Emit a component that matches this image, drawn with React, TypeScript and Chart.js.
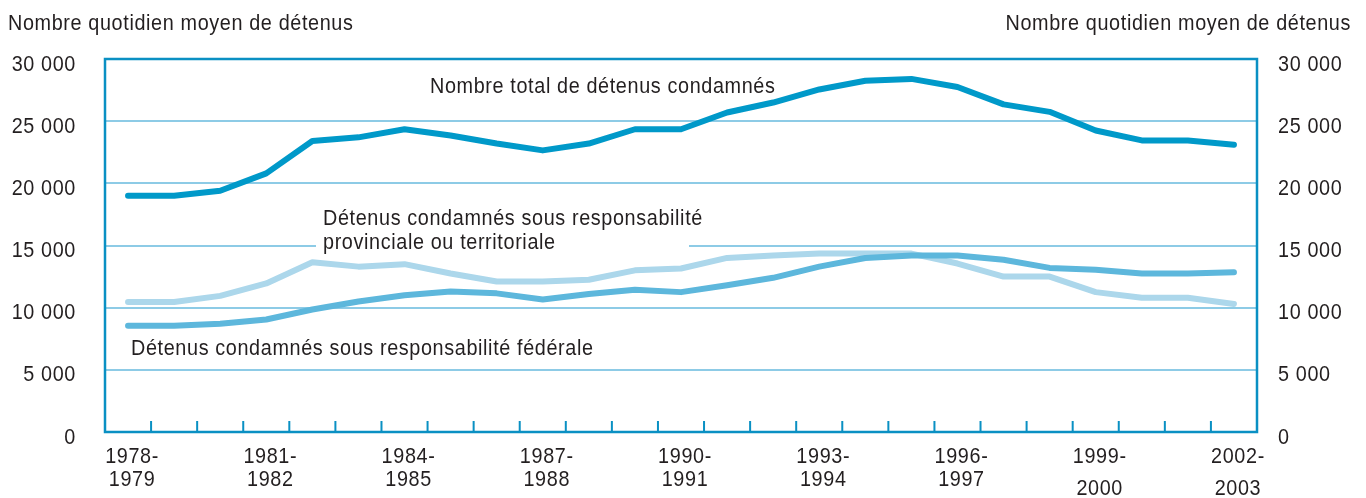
import React, { useEffect, useRef } from "react";
import { Chart, registerables } from "chart.js";

Chart.register(...registerables);

const categories = [
  "1978-1979", "1979-1980", "1980-1981", "1981-1982", "1982-1983",
  "1983-1984", "1984-1985", "1985-1986", "1986-1987", "1987-1988",
  "1988-1989", "1989-1990", "1990-1991", "1991-1992", "1992-1993",
  "1993-1994", "1994-1995", "1995-1996", "1996-1997", "1997-1998",
  "1998-1999", "1999-2000", "2000-2001", "2001-2002", "2002-2003",
];

const totalInmates = [
  19000, 19000, 19400, 20800, 23400, 23700, 24350, 23850, 23200, 22650,
  23200, 24350, 24350, 25700, 26500, 27550, 28250, 28400, 27750, 26350,
  25750, 24250, 23450, 23450, 23100,
];

const provincialInmates = [
  10450, 10450, 10950, 11950, 13650, 13300, 13500, 12750, 12100, 12100,
  12250, 13000, 13150, 14000, 14200, 14350, 14350, 14350, 13550, 12500,
  12500, 11250, 10800, 10800, 10300,
];

const federalInmates = [
  8550, 8550, 8700, 9050, 9850, 10500, 11000, 11300, 11150, 10650,
  11100, 11450, 11250, 11800, 12400, 13300, 14000, 14200, 14200, 13850,
  13200, 13050, 12750, 12750, 12850,
];

const yTicks = [0, 5000, 10000, 15000, 20000, 25000, 30000];

const axisTitle = "Nombre quotidien moyen de détenus";
const totalLabel = "Nombre total de détenus condamnés";
const provincialLabel = ["Détenus condamnés sous responsabilité", "provinciale ou territoriale"];
const federalLabel = "Détenus condamnés sous responsabilité fédérale";

const FONT_FAMILY = '"Liberation Sans", Arial, sans-serif';
const FONT_SIZE = 22;
const SQUEEZE = 0.9;
const TRACK = "0.7px";
const TEXT = "#231f20";
const FRAME = "#0a90c3";
const GRID = "#8dcbe6";
const C_TOTAL = "#0099c9";
const C_FED = "#5db7dc";
const C_PROV = "#acd7eb";

const fmt = (v: number) => String(v).replace(/\B(?=(\d{3})+(?!\d))/g, " ");

function drawText(ctx: CanvasRenderingContext2D, text: string, x: number, y: number, align: CanvasTextAlign) {
  ctx.save();
  ctx.translate(x, y);
  ctx.scale(SQUEEZE, 1);
  ctx.font = `${FONT_SIZE}px ${FONT_FAMILY}`;
  (ctx as any).letterSpacing = TRACK;
  ctx.fillStyle = TEXT;
  ctx.textAlign = align;
  ctx.textBaseline = "alphabetic";
  ctx.fillText(text, 0, 0);
  ctx.restore();
}

const customDraw = {
  id: "customDraw",
  beforeDatasetsDraw(chart: any) {
    const { ctx, chartArea } = chart;
    const y = chart.scales.y;
    const gy = y.getPixelForValue(15000);
    ctx.save();
    ctx.fillStyle = "#ffffff";
    ctx.fillRect(chartArea.left + 211, gy - 4, 373, 8);
    ctx.restore();
  },
  afterDatasetsDraw(chart: any) {
    const { ctx, chartArea } = chart;
    const x = chart.scales.x;
    const y = chart.scales.y;
    const { left, right, top, bottom } = chartArea;
    ctx.save();
    ctx.strokeStyle = FRAME;
    ctx.lineWidth = 2.5;
    ctx.beginPath();
    ctx.rect(left, top, right - left, bottom - top);
    ctx.stroke();
    ctx.lineWidth = 2;
    ctx.beginPath();
    for (let i = 1; i < categories.length; i++) {
      const px = (x.getPixelForValue(i - 1) + x.getPixelForValue(i)) / 2;
      ctx.moveTo(px, bottom);
      ctx.lineTo(px, bottom - 11);
    }
    ctx.stroke();
    ctx.restore();

    // y tick labels (both sides)
    yTicks.forEach((v) => {
      const py = y.getPixelForValue(v) + 11.5;
      drawText(ctx, fmt(v), left - 29, py, "right");
      drawText(ctx, fmt(v), right + 21, py, "left");
    });

    // x labels
    categories.forEach((c, i) => {
      if (i % 3 !== 0) return;
      const [a, b] = c.split("-");
      const px = x.getPixelForValue(i) + 4;
      drawText(ctx, a + "-", px, bottom + 30.5, "center");
      const drop = i >= 21 ? 9 : 0;
      drawText(ctx, b, px, bottom + 54 + drop, "center");
    });

    // series annotations
    drawText(ctx, totalLabel, left + 325, top + 34, "left");
    drawText(ctx, provincialLabel[0], left + 218, top + 165.5, "left");
    drawText(ctx, provincialLabel[1], left + 218, top + 190, "left");
    drawText(ctx, federalLabel, left + 26, top + 296, "left");

    // axis titles
    drawText(ctx, axisTitle, 8, 30, "left");
    drawText(ctx, axisTitle, 1351, 30, "right");
  },
};

export default function App() {
  const ref = useRef<HTMLCanvasElement | null>(null);

  useEffect(() => {
    if (!ref.current) return;
    const common = {
      fill: false,
      borderWidth: 6,
      pointRadius: 0,
      tension: 0,
      borderCapStyle: "round" as const,
      borderJoinStyle: "round" as const,
    };
    const chart = new Chart(ref.current, {
      type: "line",
      data: {
        labels: categories,
        datasets: [
          { ...common, label: totalLabel, data: totalInmates, borderColor: C_TOTAL },
          { ...common, label: federalLabel, data: federalInmates, borderColor: C_FED },
          { ...common, label: provincialLabel.join(" "), data: provincialInmates, borderColor: C_PROV },
        ],
      },
      options: {
        animation: false,
        responsive: false,
        devicePixelRatio: 1,
        layout: { padding: { top: 59, left: 0, right: 0, bottom: 0 } },
        plugins: { legend: { display: false }, tooltip: { enabled: false }, title: { display: false } },
        scales: {
          x: {
            type: "category",
            offset: true,
            ticks: { display: false },
            grid: { display: false },
            border: { display: false },
            afterFit: (s: any) => { s.height = 66; },
          },
          y: {
            position: "left",
            min: 0,
            max: 30000,
            afterBuildTicks: (s: any) => { s.ticks = yTicks.map((v) => ({ value: v })); },
            ticks: { display: false },
            grid: {
              color: (c: any) => (c.tick && (c.tick.value === 0 || c.tick.value === 30000) ? "rgba(0,0,0,0)" : GRID),
              lineWidth: 2,
              drawTicks: false,
            },
            border: { display: false },
            afterFit: (s: any) => { s.width = 105; },
          },
          y2: {
            position: "right",
            min: 0,
            max: 30000,
            ticks: { display: false },
            grid: { display: false, drawTicks: false },
            border: { display: false },
            afterFit: (s: any) => { s.width = 109; },
          },
        },
      },
      plugins: [customDraw],
    } as any);
    return () => chart.destroy();
  }, []);

  return (
    <div style={{ position: "fixed", left: 0, top: 0, width: 1366, height: 498, background: "#fff" }}>
      <canvas ref={ref} width={1366} height={498} style={{ display: "block", width: 1366, height: 498 }} />
    </div>
  );
}
